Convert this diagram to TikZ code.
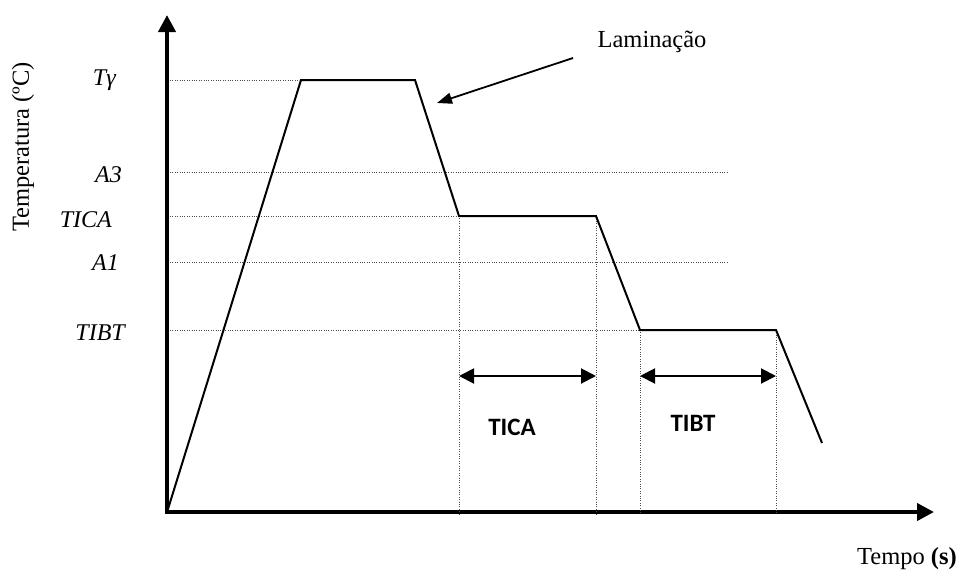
\documentclass[tikz,border=0pt]{standalone}
\usepackage{fontspec}
\setmainfont{Liberation Serif}
\newfontfamily\sanslab{Carlito}
\usetikzlibrary{arrows.meta}

\tikzset{
  axis/.style={line width=4pt, line join=miter,
    {Triangle[length=17pt,width=17pt]}-{Triangle[length=17pt,width=17pt]}},
  curve/.style={line width=2pt, line join=miter},
  guide/.style={black!70, line width=1pt, dash pattern=on 1pt off 1.4pt},
  span/.style={line width=2pt,
    {Triangle[length=15pt,width=15pt]}-{Triangle[length=15pt,width=15pt]}},
  level/.style={font=\fontsize{24}{24}\selectfont\itshape, anchor=base east, inner sep=0pt},
  period/.style={font=\fontsize{25}{25}\selectfont\sanslab\bfseries, inner sep=0pt},
  caption/.style={font=\fontsize{24.5}{24.5}\selectfont, inner sep=0pt},
}

\begin{document}
\begin{tikzpicture}[x=1pt, y=-1pt]
  \useasboundingbox (0,0) rectangle (958,571);

  % axes
  \coordinate (ytop) at (167,15);
  \coordinate (o) at (167,512);
  \coordinate (xend) at (934,512);
  \draw[axis] (ytop) -- (o) -- (xend);

  % heat treatment path
  \coordinate (c0) at (168,509);
  \coordinate (c1) at (301,80);
  \coordinate (c2) at (415,80);
  \coordinate (c3) at (459,216);
  \coordinate (c4) at (596,216);
  \coordinate (c5) at (640,330);
  \coordinate (c6) at (776,330);
  \coordinate (c7) at (822,443);
  \coordinate (ga3) at (729,172);
  \coordinate (ga1) at (729,262);

  % guide lines
  \draw[guide] ([xshift=3pt]o |- c1) -- (c1);
  \draw[guide] ([xshift=3pt]o |- ga3) -- (ga3);
  \draw[guide] ([xshift=3pt]o |- c3) -- (c3);
  \draw[guide] ([xshift=3pt]o |- ga1) -- (ga1);
  \draw[guide] ([xshift=3pt]o |- c5) -- (c5);
  \draw[guide] (c3) -- ([yshift=-2pt]c3 |- o);
  \draw[guide] (c4) -- ([yshift=-2pt]c4 |- o);
  \draw[guide] (c5) -- ([yshift=-2pt]c5 |- o);
  \draw[guide] (c6) -- ([yshift=-2pt]c6 |- o);

  \draw[curve] (c0) -- (c1) -- (c2) -- (c3) -- (c4) -- (c5) -- (c6) -- (c7);

  % temperature levels
  \node[level] (tg) at (116,85) {Tγ};
  \node[level] (a3) at (122,182) {A3};
  \node[level] (tica) at (112,227) {TICA};
  \node[level] (a1) at (119,270) {A1};
  \node[level] (tibt) at (125,340) {TIBT};

  % holding times
  \coordinate (ya) at (0,376);
  \draw[span] (c3 |- ya) -- (c4 |- ya);
  \draw[span] (c5 |- ya) -- (c6 |- ya);
  \node[period] (ticat) at (512,427) {TICA};
  \node[period] (tibtt) at (693,423) {TIBT};

  % labels
  \node[caption, rotate=90] (temp) at (23,147) {Temperatura (ºC)};
  \node[caption, anchor=base east] (tempo) at (957,564) {Tempo \textbf{(s)}};
  \node[caption, anchor=base] (lam) at (652,47) {Laminação};
  \coordinate (lamtail) at (573,58);
  \coordinate (lamtip) at (437,103);
  \draw[line width=1.8pt, -{Triangle[length=15pt,width=11pt]}] (lamtail) -- (lamtip);
\end{tikzpicture}
\end{document}
